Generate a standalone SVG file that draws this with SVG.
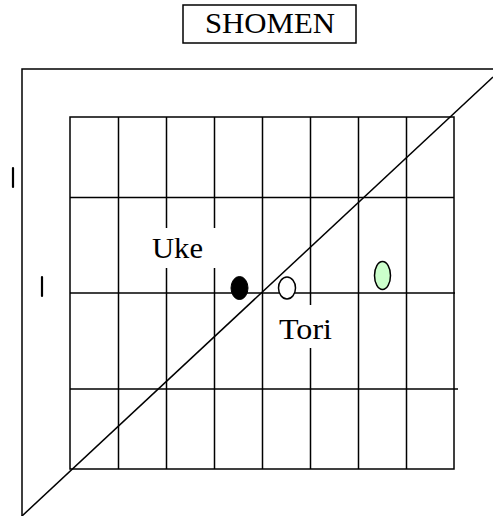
<svg xmlns="http://www.w3.org/2000/svg" width="493" height="516" viewBox="0 0 493 516">
<style>
.ln{stroke:#000;stroke-width:1.5;fill:none}
.mk{stroke:#000;stroke-width:2.2;stroke-linecap:round}
.lbl{font-family:"Liberation Serif","Times New Roman",serif;font-size:29px;fill:#000}
.mask{fill:#fff;stroke:none}
</style>
<rect width="493" height="516" fill="#fff"/>
<g id="frame">
<polyline class="ln" points="493,69 22,69 22,516"/>
</g>
<g id="grid">
<rect class="ln" x="70" y="117" width="384" height="352"/>
<line class="ln" x1="118.5" y1="117" x2="118.5" y2="469"/>
<line class="ln" x1="166.5" y1="117" x2="166.5" y2="469"/>
<line class="ln" x1="214.5" y1="117" x2="214.5" y2="469"/>
<line class="ln" x1="262.5" y1="117" x2="262.5" y2="469"/>
<line class="ln" x1="310.5" y1="117" x2="310.5" y2="469"/>
<line class="ln" x1="358.5" y1="117" x2="358.5" y2="469"/>
<line class="ln" x1="406.5" y1="117" x2="406.5" y2="469"/>
<line class="ln" x1="70" y1="197.5" x2="454" y2="197.5"/>
<line class="ln" x1="70" y1="293" x2="455" y2="293"/>
<line class="ln" x1="70" y1="389" x2="458" y2="389"/>
</g>
<g id="marks">
<line class="mk" x1="13" y1="168" x2="13" y2="187"/>
<line class="mk" x1="42" y1="277" x2="42" y2="296"/>
</g>
<g id="connectors">
<line class="ln" x1="22" y1="516" x2="493" y2="77"/>
</g>
<g id="shomen">
<rect x="183" y="5" width="173" height="38" fill="#fff" stroke="#000" stroke-width="1.5"/>
<text class="lbl" x="205" y="33" textLength="130" lengthAdjust="spacingAndGlyphs">SHOMEN</text>
</g>
<g id="uke">
<rect class="mask" x="145" y="228" width="78" height="40"/>
<text class="lbl" x="152" y="258" textLength="51" lengthAdjust="spacingAndGlyphs">Uke</text>
<ellipse cx="239.5" cy="288" rx="8.5" ry="11.5" fill="#000" stroke="#000" stroke-width="1"/>
</g>
<g id="tori">
<rect class="mask" x="276" y="305" width="60" height="43"/>
<text class="lbl" x="279" y="339" textLength="53" lengthAdjust="spacingAndGlyphs">Tori</text>
<ellipse cx="287" cy="288" rx="8.5" ry="11" fill="#fff" stroke="#000" stroke-width="1.5"/>
</g>
<g id="green">
<ellipse cx="382.5" cy="275.5" rx="8" ry="14" fill="#ccffcc" stroke="#000" stroke-width="1.5"/>
</g>
</svg>
